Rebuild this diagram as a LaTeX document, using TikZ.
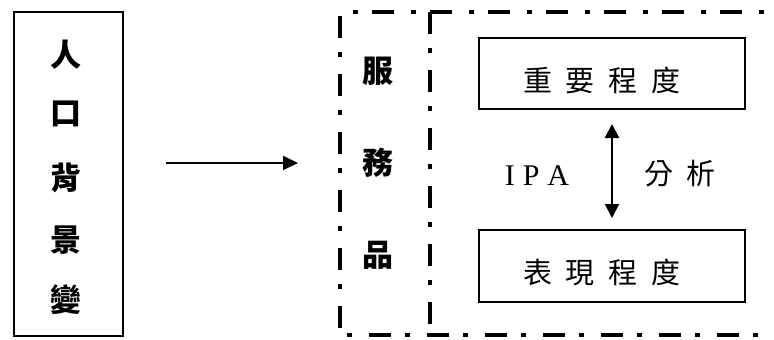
\documentclass[tikz,border=0pt]{standalone}
\usepackage{fontspec}
\setmainfont{Liberation Serif}
\newfontfamily\cjk{Noto Sans CJK TC}
\usetikzlibrary{arrows.meta}
\tikzset{
  bchar/.style={font=\cjk\bfseries\fontsize{31}{31}\selectfont, inner sep=0pt},
  rtext/.style={font=\cjk\fontsize{29}{29}\selectfont, inner sep=0pt},
  box/.style={draw, line width=2pt, inner sep=0pt},
  dd/.style={line width=4pt, dash pattern=on 22pt off 14pt on 5pt off 17pt},
  arr/.style={line width=2pt, -{Triangle[length=15pt,width=14pt]}},
  darr/.style={line width=2pt, {Triangle[length=14pt,width=14pt]}-{Triangle[length=14pt,width=14pt]}},
}
\begin{document}
\begin{tikzpicture}[x=1pt,y=-1pt]
\useasboundingbox (0,0) rectangle (774,340);
% left box
\node[box, minimum width=109pt, minimum height=324pt] (L) at (68.5,174) {};
\node[bchar] (c1) at (66,55) {人};
\node[bchar] (c2) at (66,114) {口};
\node[bchar] (c3) at (66,178) {背};
\node[bchar] (c4) at (66,240) {景};
\node[bchar] (c5) at (66,300) {變};
% dashed region
\draw[dd] (800,12) -- (340,12) -- (340,335) -- (800,335);
\draw[dd] (430,12) -- (430,335);
\coordinate (S) at (340,163);
\node[bchar] (s1) at (378,71) {服};
\node[bchar] (s2) at (378,163) {務};
\node[bchar] (s3) at (378,255) {品};
% arrow
\draw[arr] ([xshift=42pt]L.east |- S) -- ([xshift=-42pt]S);
% boxes
\node[box, minimum width=266pt, minimum height=71pt] (T) at (612,73.5) {};
\node[box, minimum width=266pt, minimum height=72pt] (B) at (612,266) {};
\node[rtext] (tt) at (602,80) {重\kern14pt 要\kern14pt 程\kern14pt 度};
\node[rtext] (bt) at (602,272) {表\kern14pt 現\kern14pt 程\kern14pt 度};
\draw[darr] ([yshift=-14pt]T.south) -- ([yshift=11pt]B.north);
\node[font=\fontsize{30}{30}\selectfont, inner sep=0pt] (ipa) at (537,176) {I\kern8pt P\kern8pt A};
\node[rtext] (fx) at (680,174) {分\kern14pt 析};
\end{tikzpicture}
\end{document}
